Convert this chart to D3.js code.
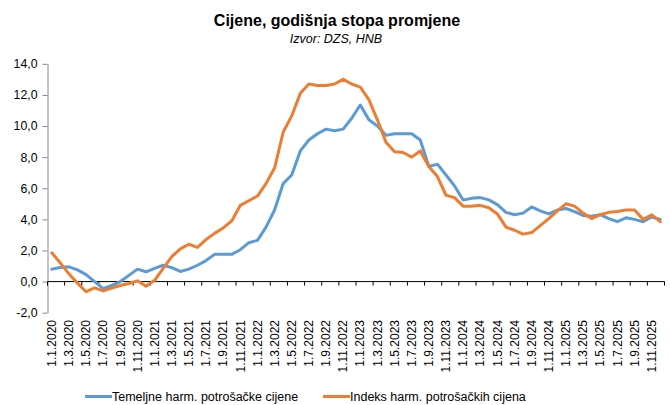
<!DOCTYPE html>
<html><head><meta charset="utf-8">
<script src="https://cdn.jsdelivr.net/npm/d3@7/dist/d3.min.js"></script>
<style>
body{margin:0;background:#fff;}
svg{display:block;font-family:"Liberation Sans",Arial,sans-serif;}
</style></head>
<body><svg id="c" width="670" height="405"></svg>
<script>
const years = [2020, 2021, 2022, 2023, 2024, 2025];
const categories = [];
years.forEach(y => { for (let m = 1; m <= 12; m++) categories.push("1." + m + "." + y); });

const coreHICP = [
  0.8, 0.9, 0.95, 0.75, 0.45, 0.0, -0.45, -0.25, 0.0, 0.4, 0.8, 0.63,
  0.85, 1.05, 0.9, 0.65, 0.8, 1.05, 1.35, 1.75, 1.75, 1.75, 2.05, 2.5,
  2.65, 3.5, 4.6, 6.3, 6.85, 8.4, 9.1, 9.5, 9.8, 9.7, 9.8, 10.5,
  11.35, 10.4, 10.0, 9.4, 9.5, 9.5, 9.5, 9.1, 7.4, 7.55, 6.85, 6.15,
  5.25, 5.35, 5.4, 5.25, 4.95, 4.45, 4.3, 4.4, 4.8, 4.55, 4.35, 4.6,
  4.7, 4.5, 4.25, 4.2, 4.3, 4.05, 3.85, 4.1, 4.0, 3.85, 4.15, 4.0
];
const hicp = [
  1.85, 1.2, 0.5, -0.1, -0.65, -0.4, -0.6, -0.42, -0.25, -0.12, 0.05, -0.3,
  0.08, 0.85, 1.6, 2.1, 2.4, 2.2, 2.7, 3.1, 3.45, 3.9, 4.9, 5.2,
  5.5, 6.3, 7.3, 9.6, 10.65, 12.1, 12.7, 12.6, 12.6, 12.7, 13.0, 12.7,
  12.5, 11.7, 10.4, 8.95, 8.35, 8.3, 8.0, 8.4, 7.4, 6.75, 5.55, 5.4,
  4.85, 4.85, 4.9, 4.75, 4.35, 3.5, 3.3, 3.05, 3.15, 3.6, 4.05, 4.55,
  5.0, 4.85, 4.4, 4.05, 4.3, 4.45, 4.5, 4.6, 4.6, 4.0, 4.3, 3.85
];
const yTicks = [-2, 0, 2, 4, 6, 8, 10, 12, 14];
const seriesNames = ["Temeljne harm. potrošačke cijene", "Indeks harm. potrošačkih cijena"];
const seriesColors = ["#5B9BD5", "#ED7D31"];

const svg = d3.select("#c");
const pLeft = 47.5, pRight = 664.5, pTop = 63.8, pBottom = 312.7;

const x = d3.scaleBand().domain(categories).range([pLeft, pRight]).padding(0);
const y = d3.scaleLinear().domain([-2, 14]).range([pBottom, pTop]);
const cx = c => x(c) + x.bandwidth() / 2;
const fmt = v => d3.format(".1f")(v).replace(".", ",").replace("−", "-");

// Title
svg.append("text").attr("x", 337).attr("y", 25.5).attr("text-anchor", "middle")
  .attr("font-size", 16).attr("font-weight", "bold").attr("fill", "#000")
  .text("Cijene, godišnja stopa promjene");
svg.append("text").attr("x", 336).attr("y", 42.5).attr("text-anchor", "middle")
  .attr("font-size", 12.5).attr("font-style", "italic").attr("fill", "#000")
  .text("Izvor: DZS, HNB");

// Y axis
const yAxis = svg.append("g").attr("transform", `translate(${pLeft},0)`)
  .call(d3.axisLeft(y).tickValues(yTicks).tickFormat(fmt).tickSize(5).tickPadding(5).tickSizeOuter(0));
yAxis.select(".domain").attr("stroke", "#868686").attr("stroke-width", 1);
yAxis.selectAll(".tick line").attr("stroke", "#868686");
yAxis.selectAll(".tick text").attr("font-size", 12.3).attr("fill", "#000")
  .attr("font-family", "Liberation Sans, Arial, sans-serif");

// X axis line at zero
const y0 = y(0);
svg.append("line").attr("x1", pLeft).attr("x2", pRight).attr("y1", y0).attr("y2", y0)
  .attr("stroke", "#000").attr("stroke-width", 1);
// tick marks every 2 categories (between categories)
const tickCats = categories.filter((d, i) => i % 2 === 0);
svg.append("g").selectAll("line").data(tickCats).join("line")
  .attr("x1", d => x(d)).attr("x2", d => x(d))
  .attr("y1", y0).attr("y2", y0 + 4)
  .attr("stroke", "#000").attr("stroke-width", 1);
svg.append("line").attr("x1", pRight).attr("x2", pRight).attr("y1", y0).attr("y2", y0 + 4)
  .attr("stroke", "#000");

// X labels
svg.append("g").selectAll("text").data(tickCats).join("text")
  .attr("transform", d => `translate(${cx(d)},320) rotate(-90)`)
  .attr("text-anchor", "end").attr("dy", "0.35em")
  .attr("font-size", 12).attr("fill", "#000")
  .text(d => d);

// Lines
const line = d3.line().x((d, i) => cx(categories[i])).y(d => y(d));
[coreHICP, hicp].forEach((s, k) => {
  svg.append("path").datum(s).attr("d", line)
    .attr("fill", "none").attr("stroke", seriesColors[k]).attr("stroke-width", 3)
    .attr("stroke-linejoin", "round").attr("stroke-linecap", "round");
});

// Legend
const legX = [85, 323];
seriesNames.forEach((n, k) => {
  svg.append("line").attr("x1", legX[k]).attr("x2", legX[k] + 27).attr("y1", 396.5).attr("y2", 396.5)
    .attr("stroke", seriesColors[k]).attr("stroke-width", 3);
  svg.append("text").attr("x", legX[k] + 27).attr("y", 401).attr("font-size", 12.5).attr("fill", "#000")
    .text(n);
});
</script></body></html>
